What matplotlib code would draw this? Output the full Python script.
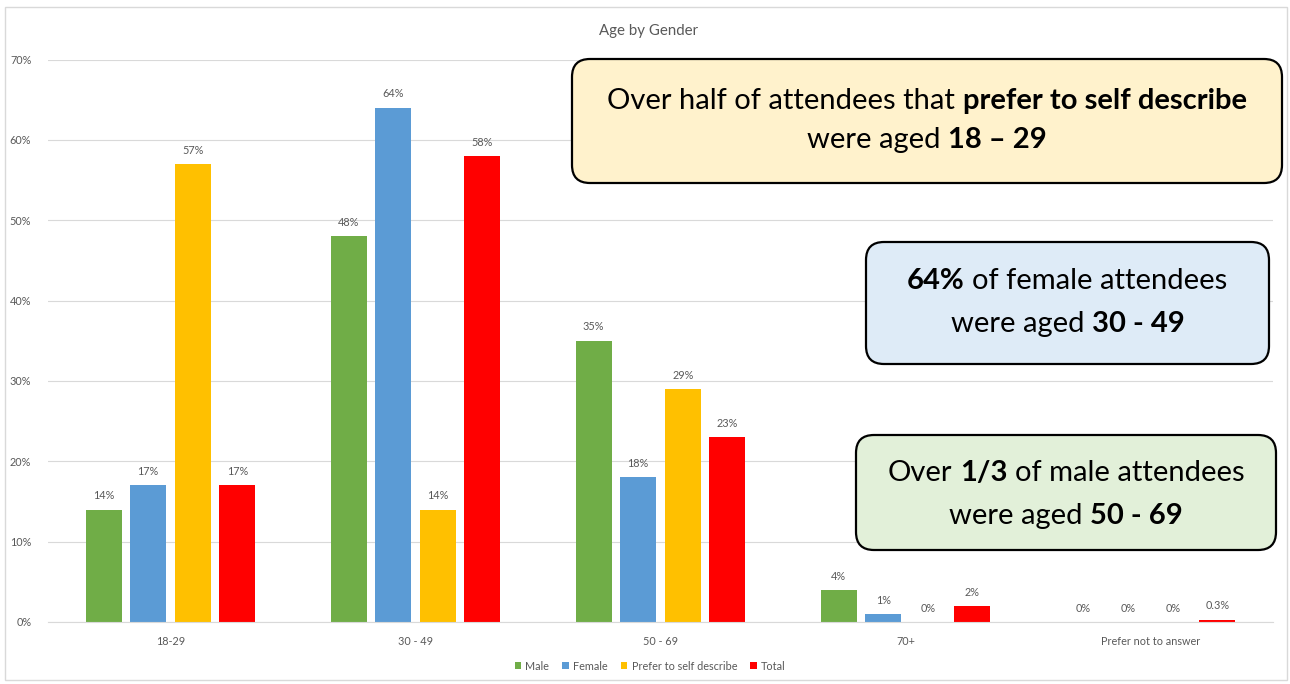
import numpy as np
import matplotlib
matplotlib.use("Agg")
import matplotlib.pyplot as plt
from matplotlib.patches import FancyBboxPatch, Rectangle
from matplotlib.transforms import IdentityTransform

# Survey data: share of each gender group in each age band (%)
age_bands = ["18-29", "30 - 49", "50 - 69", "70+", "Prefer not to answer"]
series_names = ["Male", "Female", "Prefer to self describe", "Total"]
male = [14, 48, 35, 4, 0]
female = [17, 64, 18, 1, 0]
self_describe = [57, 14, 29, 0, 0]
total = [17, 58, 23, 2, 0.3]
y_ticks = [0, 10, 20, 30, 40, 50, 60, 70]

series_colors = ["#70AD47", "#5B9BD5", "#FFC000", "#FF0000"]
GRAY = "#595959"
GRID = "#D9D9D9"
LABEL_FONT = "Lato"

W, H = 1290, 684
fig = plt.figure(figsize=(W / 100, H / 100), dpi=100)
fig.patch.set_facecolor("white")


def fx(x):
    return x / W


def fy(y):
    return 1 - y / H


# chart frame
fig.add_artist(Rectangle((fx(5), fy(680)), fx(1282), (680 - 7) / H,
                         transform=fig.transFigure, fill=False,
                         edgecolor=GRID, linewidth=1))

ax = fig.add_axes([fx(48), fy(622), fx(1273 - 48), (622 - 59.5) / H])

n_groups = len(series_names)
step = 0.182
width = 0.147
x = np.arange(len(age_bands))
all_series = [male, female, self_describe, total]

for i, (vals, name, color) in enumerate(zip(all_series, series_names, series_colors)):
    offset = (i - (n_groups - 1) / 2) * step
    bars = ax.bar(x + offset, vals, width=width, color=color, label=name, zorder=3)
    for rect, v in zip(bars, vals):
        label = f"{v:.0f}%" if float(v).is_integer() else f"{v:.1f}%"
        ax.annotate(label, (rect.get_x() + rect.get_width() / 2, rect.get_height()),
                    xytext=(0, 6), textcoords="offset points",
                    ha="center", va="bottom", fontsize=7.8, color=GRAY,
                    family=LABEL_FONT)

ax.set_xlim(-0.5, len(age_bands) - 0.5)
ax.set_ylim(0, 70)
ax.set_yticks(y_ticks)
ax.set_yticklabels([f"{t}%" for t in y_ticks])
ax.set_xticks(x)
ax.set_xticklabels(age_bands)
ax.tick_params(length=0, labelsize=7.8, labelcolor=GRAY, pad=10)
ax.tick_params(axis="y", pad=12)
for lbl in ax.get_xticklabels() + ax.get_yticklabels():
    lbl.set_family(LABEL_FONT)
ax.grid(axis="y", color=GRID, linewidth=0.8, zorder=0)
for side in ["top", "right", "left"]:
    ax.spines[side].set_visible(False)
ax.spines["bottom"].set_color(GRID)
ax.spines["bottom"].set_zorder(4)

fig.text(fx(648), fy(31), "Age by Gender", ha="center", va="center",
         fontsize=10.8, color=GRAY, family=LABEL_FONT)

leg = fig.legend(loc="center", bbox_to_anchor=(fx(650), fy(666)), ncol=4,
                 frameon=False, handlelength=0.6, handleheight=0.6,
                 handletextpad=0.4, columnspacing=1.2,
                 prop={"family": LABEL_FONT, "size": 7.8})
for t in leg.get_texts():
    t.set_color(GRAY)

# callout boxes with mixed regular / bold runs of text
renderer = fig.canvas.get_renderer()


def rich_line(cx, cy, parts, size, family):
    pieces = []
    for txt, bold in parts:
        t = fig.text(0, 0, txt, fontsize=size, family=family,
                     fontweight="bold" if bold else "normal",
                     color="black", va="center", ha="left", zorder=10,
                     transform=IdentityTransform())
        pieces.append(t)
    a = fig.text(0, 0, "x x", fontsize=size, family=family, transform=IdentityTransform())
    b = fig.text(0, 0, "xx", fontsize=size, family=family, transform=IdentityTransform())
    space = a.get_window_extent(renderer).width - b.get_window_extent(renderer).width
    a.remove()
    b.remove()
    widths = [p.get_window_extent(renderer).width for p in pieces]
    total_w = sum(widths) + space * (len(pieces) - 1)
    xpos = cx - total_w / 2
    for p, w in zip(pieces, widths):
        p.set_position((xpos, H - cy))
        xpos += w + space


def callout(x0, y0, x1, y1, face, lines, size, family):
    box = FancyBboxPatch((x0, H - y1), x1 - x0, y1 - y0,
                         boxstyle="round,pad=0,rounding_size=18",
                         transform=IdentityTransform(), facecolor=face,
                         edgecolor="black", linewidth=1.6, zorder=5)
    fig.add_artist(box)
    for cy, parts in lines:
        rich_line((x0 + x1) / 2, cy, parts, size, family)


callout(572, 59, 1282, 183, "#FFF2CC",
        [(101, [("Over half of attendees that", False), ("prefer to self describe", True)]),
         (140, [("were aged", False), ("18 – 29", True)])],
        21, "Lato")
callout(866, 242, 1269, 364, "#DEEBF7",
        [(281, [("64%", True), ("of female attendees", False)]),
         (324, [("were aged", False), ("30 - 49", True)])],
        21, "Lato")
callout(856, 435, 1276, 550, "#E2F0D9",
        [(473, [("Over", False), ("1/3", True), ("of male attendees", False)]),
         (516, [("were aged", False), ("50 - 69", True)])],
        21, "Lato")

fig.savefig("out.png", dpi=100)
